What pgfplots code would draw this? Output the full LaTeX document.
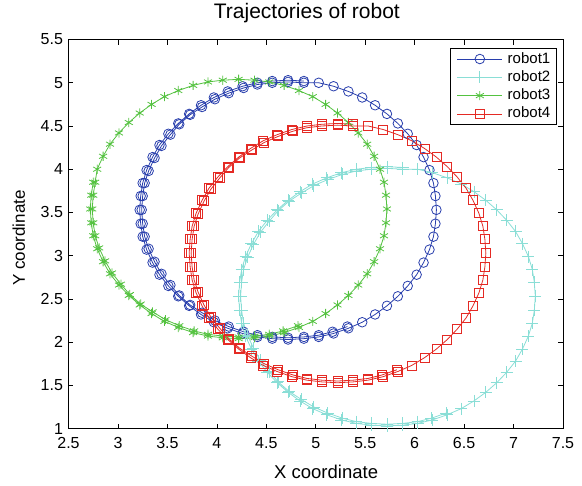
\documentclass[border=0pt]{standalone}
\usepackage{fontspec}
\setmainfont{Liberation Sans}
\usepackage{pgfplots}
\pgfplotsset{compat=1.18}

\definecolor{rbBlue}{RGB}{40,62,172}
\definecolor{rbCyan}{RGB}{138,222,214}
\definecolor{rbGreen}{RGB}{84,194,64}
\definecolor{rbRed}{RGB}{228,42,36}

\begin{document}
\begin{tikzpicture}
\begin{axis}[
  width=494.5pt, height=389pt, scale only axis,
  xmin=2.5, xmax=7.5, ymin=1, ymax=5.5,
  xtick={2.5,3,3.5,4,4.5,5,5.5,6,6.5,7,7.5},
  ytick={1,1.5,2,2.5,3,3.5,4,4.5,5,5.5},
  tick align=inside, tick pos=both,
  major tick length=5pt,
  tick style={black, line width=0.6pt},
  axis line style={black, line width=0.9pt},
  /pgf/number format/assume math mode=true,
  ticklabel style={font=\fontsize{16}{19}\selectfont},
  x tick label style={anchor=base, yshift=-20pt},
  y tick label style={anchor=east, xshift=-2pt},
  title={Trajectories of robot},
  title style={at={(0.482,1.0386)}, anchor=base, font=\fontsize{21}{25}\selectfont},
  xlabel={X coordinate},
  every axis x label/.style={at={(0.521,-0.1285)}, anchor=base, font=\fontsize{18.5}{22}\selectfont},
  ylabel={Y coordinate},
  every axis y label/.style={at={(-0.088,0.49)}, rotate=90, anchor=base, font=\fontsize{17}{20}\selectfont},
  legend cell align=left,
  legend style={at={(0.9873,0.9794)}, anchor=north east, draw=black, line width=0.9pt,
    font=\fontsize{15}{18}\selectfont, row sep=4.3pt,
    nodes={inner sep=0pt, text height=11pt, text depth=3pt},
    inner xsep=6pt, inner ysep=4pt},
  legend image code/.code={
    \draw[mark repeat=2, mark phase=2] plot coordinates {(0pt,0pt) (22.5pt,0pt) (45pt,0pt)};
    \path (50pt,0pt);
  },
]

% robot1: one full loop, then a second pass over the left half
\addplot[rbBlue, line width=0.8pt, mark=o, mark size=4.8pt] table {
x y
4.88 5.02
4.72 5.03
4.56 5.02
4.41 5.00
4.26 4.96
4.11 4.90
3.97 4.83
3.84 4.74
3.72 4.64
3.61 4.53
3.51 4.41
3.42 4.28
3.35 4.14
3.29 3.99
3.25 3.84
3.23 3.69
3.22 3.53
3.23 3.37
3.25 3.22
3.29 3.07
3.35 2.92
3.42 2.78
3.51 2.65
3.61 2.53
3.72 2.42
3.84 2.32
3.97 2.23
4.11 2.16
4.26 2.10
4.41 2.06
4.56 2.04
4.72 2.03
4.88 2.04
5.03 2.06
5.18 2.10
5.33 2.16
5.47 2.23
5.60 2.32
5.72 2.42
5.83 2.53
5.93 2.65
6.02 2.78
6.09 2.92
6.15 3.07
6.19 3.22
6.21 3.37
6.22 3.53
6.21 3.69
6.19 3.84
6.15 3.99
6.09 4.14
6.02 4.28
5.93 4.41
5.83 4.53
5.72 4.64
5.60 4.74
5.47 4.83
5.33 4.90
5.18 4.96
5.03 5.00
4.88 5.00
4.72 5.01
4.56 5.00
4.41 4.98
4.27 4.94
4.12 4.88
3.98 4.81
3.85 4.72
3.73 4.63
3.62 4.52
3.53 4.40
3.44 4.27
3.37 4.13
3.31 3.98
3.27 3.84
3.25 3.69
3.24 3.53
3.25 3.37
3.27 3.22
3.31 3.08
3.37 2.93
3.44 2.79
3.53 2.66
3.62 2.54
3.73 2.43
3.85 2.34
3.98 2.25
4.12 2.18
4.27 2.12
4.41 2.08
4.56 2.06
4.72 2.05
4.88 2.06
5.03 2.08
5.17 2.12
5.32 2.18
};
\addlegendentry{robot1}

% robot2
\addplot[rbCyan, line width=0.8pt, mark=+, mark size=6pt] table {
x y
5.88 4.02
5.72 4.03
5.56 4.02
5.41 4.00
5.26 3.96
5.11 3.90
4.97 3.83
4.84 3.74
4.72 3.64
4.61 3.53
4.51 3.41
4.42 3.28
4.35 3.14
4.29 2.99
4.25 2.84
4.23 2.69
4.22 2.53
4.23 2.37
4.25 2.22
4.29 2.07
4.35 1.92
4.42 1.78
4.51 1.65
4.61 1.53
4.72 1.42
4.84 1.32
4.97 1.23
5.11 1.16
5.26 1.10
5.41 1.06
5.56 1.04
5.72 1.03
5.88 1.04
6.03 1.06
6.18 1.10
6.33 1.16
6.47 1.23
6.60 1.32
6.72 1.42
6.83 1.53
6.93 1.65
7.02 1.78
7.09 1.92
7.15 2.07
7.19 2.22
7.21 2.37
7.22 2.53
7.21 2.69
7.19 2.84
7.15 2.99
7.09 3.14
7.02 3.28
6.93 3.41
6.83 3.53
6.72 3.64
6.60 3.74
6.47 3.83
6.33 3.90
6.18 3.96
6.03 4.00
5.88 4.00
5.72 4.01
5.56 4.00
5.41 3.98
5.27 3.94
5.12 3.88
4.98 3.81
4.85 3.72
4.73 3.63
4.62 3.52
4.53 3.40
4.44 3.27
4.37 3.13
4.31 2.98
4.27 2.84
4.25 2.69
4.24 2.53
4.25 2.37
4.27 2.22
4.31 2.08
4.37 1.93
4.44 1.79
4.53 1.66
4.62 1.54
4.73 1.43
4.85 1.34
4.98 1.25
5.12 1.18
5.27 1.12
5.41 1.08
5.56 1.06
5.72 1.05
5.88 1.06
6.03 1.08
6.17 1.12
6.32 1.18
};
\addlegendentry{robot2}

% robot3
\addplot[rbGreen, line width=0.8pt, mark=asterisk, mark size=4.6pt] table {
x y
2.75 3.85
2.73 3.70
2.72 3.54
2.73 3.38
2.75 3.23
2.79 3.08
2.85 2.93
2.92 2.79
3.01 2.66
3.11 2.54
3.22 2.43
3.34 2.33
3.47 2.24
3.61 2.17
3.76 2.11
3.91 2.07
4.06 2.05
4.22 2.04
4.38 2.05
4.53 2.07
4.68 2.11
4.83 2.17
4.97 2.24
5.10 2.33
5.22 2.43
5.33 2.54
5.43 2.66
5.52 2.79
5.59 2.93
5.65 3.08
5.69 3.23
5.71 3.38
5.72 3.54
5.71 3.70
5.69 3.85
5.65 4.00
5.59 4.15
5.52 4.29
5.43 4.42
5.33 4.54
5.22 4.65
5.10 4.75
4.97 4.84
4.83 4.91
4.68 4.97
4.53 5.01
4.38 5.03
4.22 5.04
4.06 5.03
3.91 5.01
3.76 4.97
3.61 4.91
3.47 4.84
3.34 4.75
3.22 4.65
3.11 4.54
3.01 4.42
2.92 4.29
2.85 4.15
2.79 4.00
2.77 3.85
2.75 3.70
2.74 3.54
2.75 3.38
2.77 3.23
2.81 3.09
2.87 2.94
2.94 2.80
3.03 2.67
3.12 2.55
3.23 2.44
3.35 2.35
3.48 2.26
3.62 2.19
3.77 2.13
3.91 2.09
4.06 2.07
4.22 2.06
4.38 2.07
4.53 2.09
4.67 2.13
4.82 2.19
};
\addlegendentry{robot3}

% robot4
\addplot[rbRed, line width=0.8pt, mark=square, mark size=4.5pt] table {
x y
5.38 4.52
5.22 4.53
5.06 4.52
4.91 4.50
4.76 4.46
4.61 4.40
4.47 4.33
4.34 4.24
4.22 4.14
4.11 4.03
4.01 3.91
3.92 3.78
3.85 3.64
3.79 3.49
3.75 3.34
3.73 3.19
3.72 3.03
3.73 2.87
3.75 2.72
3.79 2.57
3.85 2.42
3.92 2.28
4.01 2.15
4.11 2.03
4.22 1.92
4.34 1.82
4.47 1.73
4.61 1.66
4.76 1.60
4.91 1.56
5.06 1.54
5.22 1.53
5.38 1.54
5.53 1.56
5.68 1.60
5.83 1.66
5.97 1.73
6.10 1.82
6.22 1.92
6.33 2.03
6.43 2.15
6.52 2.28
6.59 2.42
6.65 2.57
6.69 2.72
6.71 2.87
6.72 3.03
6.71 3.19
6.69 3.34
6.65 3.49
6.59 3.64
6.52 3.78
6.43 3.91
6.33 4.03
6.22 4.14
6.10 4.24
5.97 4.33
5.83 4.40
5.68 4.46
5.53 4.50
5.38 4.50
5.22 4.51
5.06 4.50
4.91 4.48
4.77 4.44
4.62 4.38
4.48 4.31
4.35 4.22
4.23 4.13
4.12 4.02
4.03 3.90
3.94 3.77
3.87 3.63
3.81 3.48
3.77 3.34
3.75 3.19
3.74 3.03
3.75 2.87
3.77 2.72
3.81 2.58
3.87 2.43
3.94 2.29
4.03 2.16
4.12 2.04
4.23 1.93
4.35 1.84
4.48 1.75
4.62 1.68
4.77 1.62
4.91 1.58
5.06 1.56
5.22 1.55
5.38 1.56
5.53 1.58
5.67 1.62
5.82 1.68
};
\addlegendentry{robot4}

\end{axis}
\path (current axis.south west) +(-68.5pt,-57pt) (current axis.north east) +(19pt,36pt);
\end{tikzpicture}
\end{document}
